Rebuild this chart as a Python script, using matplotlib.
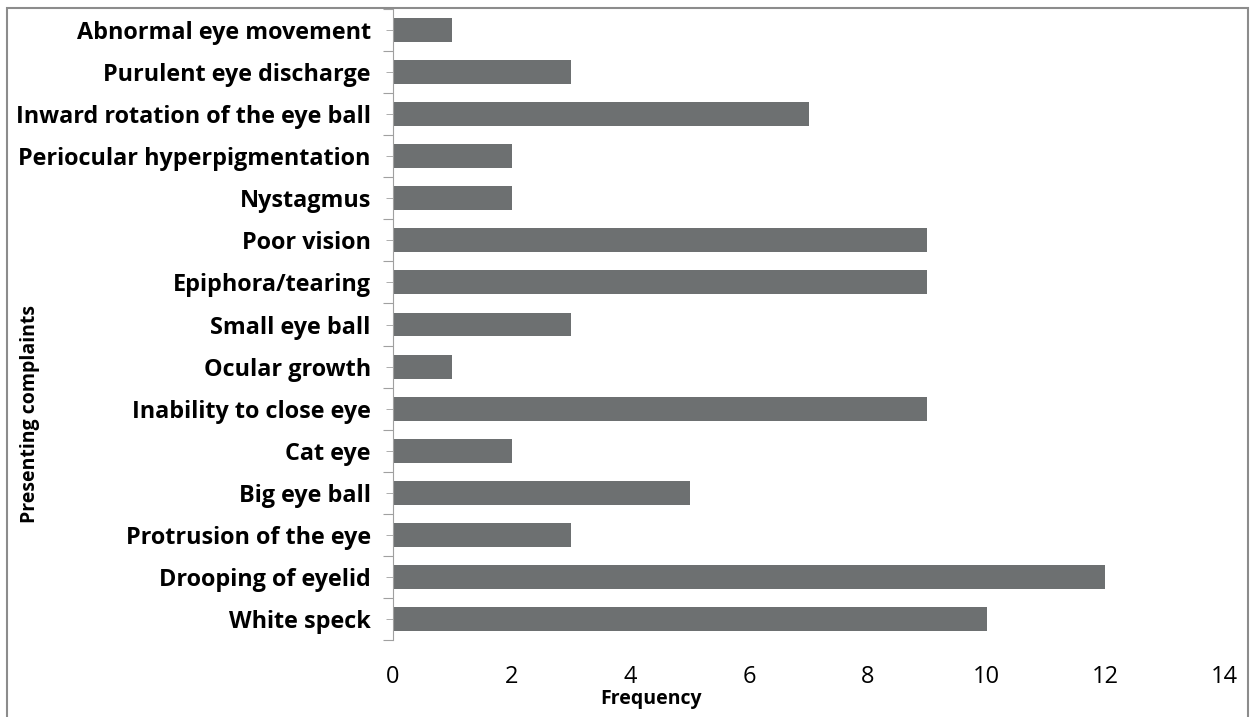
import matplotlib.pyplot as plt
from matplotlib.patches import Rectangle
import numpy as np

# categories bottom to top
complaints = ["White speck", "Drooping of eyelid", "Protrusion of the eye", "Big eye ball",
              "Cat eye", "Inability to close eye", "Ocular growth", "Small eye ball",
              "Epiphora/tearing", "Poor vision", "Nystagmus", "Periocular hyperpigmentation",
              "Inward rotation of the eye ball", "Purulent eye discharge", "Abnormal eye movement"]
frequency = [10, 12, 3, 5, 2, 9, 1, 3, 9, 9, 2, 2, 7, 3, 1]
xticks = [0, 2, 4, 6, 8, 10, 12, 14]

plt.rcParams['font.family'] = ['Open Sans', 'DejaVu Sans']

fig = plt.figure(figsize=(12.55, 7.17), dpi=100)
ax = fig.add_axes([393/1255, 1-640/717, (1224-393)/1255, (640-9)/717])

y_pos = np.arange(len(complaints))
ax.barh(y_pos, frequency, height=0.57, color='#6d7071')

ax.set_xlim(0, 14)
ax.set_ylim(-0.5, len(complaints)-0.5)
ax.set_xticks(xticks)
ax.set_xticklabels([str(t) for t in xticks], fontsize=17)
ax.tick_params(axis='x', length=0, pad=18)

ax.set_yticks(list(y_pos - 0.5) + [len(complaints)-0.5])
ax.set_yticklabels([])
ax.set_yticks(y_pos, minor=True)
ax.set_yticklabels(complaints, minor=True, fontsize=16.8, fontweight='bold')
ax.tick_params(axis='y', which='major', length=7, color='#a0a0a0')
ax.tick_params(axis='y', which='minor', length=5, color='#a0a0a0', pad=11)

for s in ['top', 'right', 'bottom']:
    ax.spines[s].set_visible(False)
ax.spines['left'].set_color('#a0a0a0')

fig.text(30/1255, 1-414/717, "Presenting complaints", rotation=90, ha='center', va='center',
         fontsize=14, fontweight='bold')
fig.text(651/1255, 1-699/717, "Frequency", ha='center', va='center',
         fontsize=14, fontweight='bold')

fig.patches.append(Rectangle((7/1255, -0.01), (1248-7)/1255, 1-8/717+0.01,
                             transform=fig.transFigure, fill=False, edgecolor='#8c8c8c', lw=1.5))

fig.savefig("out.png", dpi=100)
